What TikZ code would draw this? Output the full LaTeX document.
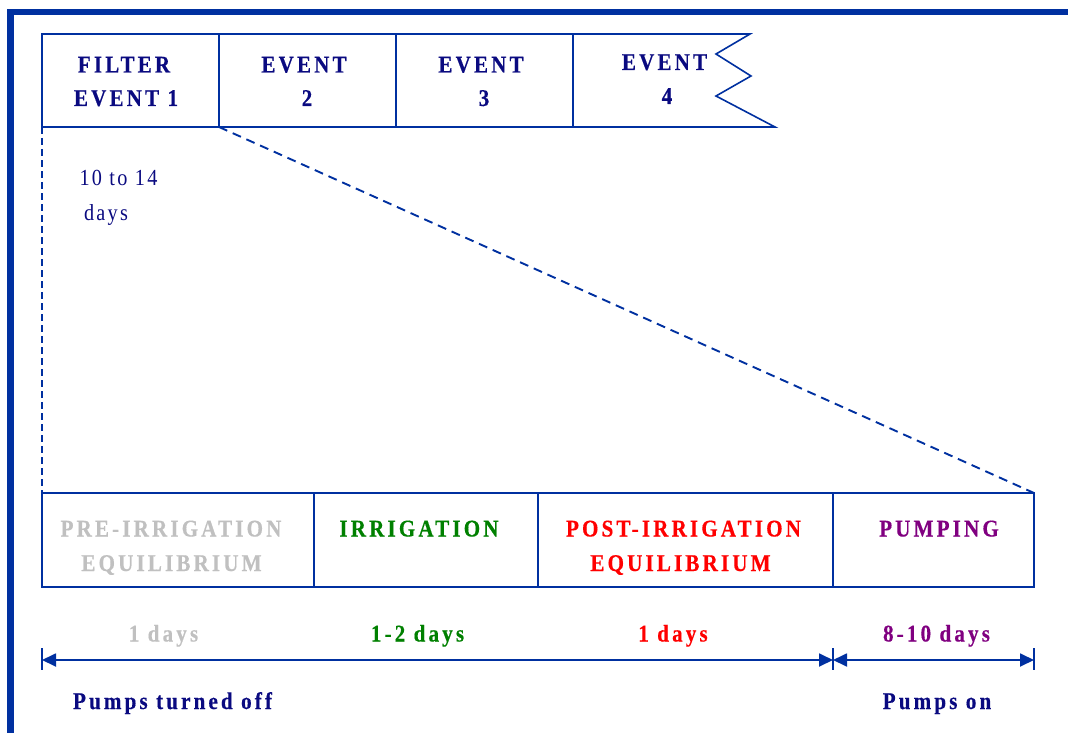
\documentclass[tikz,border=0pt]{standalone}
\usepackage{fontspec}
\setmainfont{Liberation Serif}
\newfontfamily\spaced[LetterSpace=13,FakeStretch=0.88,BoldFeatures={FakeBold=0.4}]{Liberation Serif}
\newfontfamily\spacedlight[LetterSpace=10,FakeStretch=0.88]{Liberation Serif}
\usetikzlibrary{arrows.meta}
\definecolor{lineblue}{RGB}{0,48,160}
\definecolor{navytext}{RGB}{10,10,128}
\definecolor{grayt}{RGB}{192,192,192}
\definecolor{greent}{RGB}{0,128,0}
\definecolor{redt}{RGB}{255,0,0}
\definecolor{purplet}{RGB}{128,0,128}
\tikzset{
  cell/.style={draw=lineblue, line width=1.6pt, inner sep=0pt, outer sep=0pt, anchor=north west},
  ttl/.style={anchor=base, inner sep=0pt, font=\fontsize{24}{28}\selectfont\spaced\bfseries},
  plain/.style={anchor=base, inner sep=0pt, text=navytext, font=\fontsize{23}{27}\selectfont\spacedlight},
  frameline/.style={draw=lineblue, line width=6.5pt},
  bline/.style={draw=lineblue, line width=1.6pt},
  dashv/.style={draw=lineblue, line width=2.3pt, dash pattern=on 7pt off 4pt},
  dashd/.style={draw=lineblue, line width=1.9pt, dash pattern=on 9pt off 6pt},
  span/.style={draw=lineblue, line width=1.8pt, {Triangle[length=14pt,width=13pt]}-{Triangle[length=14pt,width=13pt]}},
}
\begin{document}
\begin{tikzpicture}[x=1pt,y=-1pt]
\useasboundingbox (0,0) rectangle (1068,733);
% outer frame
\coordinate (fb) at (10.5,733);
\coordinate (fc) at (10.5,12);
\coordinate (fr) at (1068,12);
\draw[frameline] (fb) -- (fc) -- (fr);

% top event boxes
\node[cell, minimum width=177pt, minimum height=93pt] (b1) at (42,34) {};
\node[cell, minimum width=177pt, minimum height=93pt] (b2) at (219,34) {};
\node[cell, minimum width=177pt, minimum height=93pt] (b3) at (396,34) {};
\coordinate (e4a) at (750,34);
\coordinate (e4b) at (716,54);
\coordinate (e4c) at (751,76);
\coordinate (e4d) at (716,96);
\coordinate (e4e) at (775,127);
\draw[bline, line join=miter] (b3.north east) -- (e4a) -- (e4b) -- (e4c) -- (e4d) -- (e4e) -- (b3.south east);

\node[ttl, text=navytext] (t1a) at (124,72.5) {FILTER};
\node[ttl, text=navytext] (t1b) at (126,106) {EVENT 1};
\node[ttl, text=navytext] (t2a) at (304,72.5) {EVENT};
\node[ttl, text=navytext] (t2b) at (307,106) {2};
\node[ttl, text=navytext] (t3a) at (481,72.5) {EVENT};
\node[ttl, text=navytext] (t3b) at (484,106) {3};
\node[ttl, text=navytext] (t4a) at (664.5,70) {EVENT};
\node[ttl, text=navytext] (t4b) at (667,104) {4};

\node[plain] (d1) at (118.5,185) {10 to 14};
\node[plain] (d2) at (106,220) {days};

% bottom phase boxes
\node[cell, minimum width=272pt, minimum height=94pt] (p1) at (42,493) {};
\node[cell, minimum width=224pt, minimum height=94pt] (p2) at (314,493) {};
\node[cell, minimum width=295pt, minimum height=94pt] (p3) at (538,493) {};
\node[cell, minimum width=201pt, minimum height=94pt] (p4) at (833,493) {};

% zoom lines
\draw[dashv] (b1.south west) -- (p1.north west);
\draw[dashd] (b1.south east) -- (p4.north east);

\node[ttl, text=grayt] (q1a) at (171,536.5) {PRE-IRRIGATION};
\node[ttl, text=grayt] (q1b) at (171.5,571) {EQUILIBRIUM};
\node[ttl, text=greent] (q2a) at (419,536.5) {IRRIGATION};
\node[ttl, text=redt] (q3a) at (683.5,536.5) {POST-IRRIGATION};
\node[ttl, text=redt] (q3b) at (680.5,571) {EQUILIBRIUM};
\node[ttl, text=purplet] (q4a) at (939,536.5) {PUMPING};

% durations
\node[ttl, text=grayt] (u1) at (163.5,641.5) {1 days};
\node[ttl, text=greent] (u2) at (417.5,641.5) {1-2 days};
\node[ttl, text=redt] (u3) at (673,641.5) {1 days};
\node[ttl, text=purplet] (u4) at (936.5,641.5) {8-10 days};

% spans
\coordinate (s0) at (42,660);
\coordinate (s1) at (833,660);
\coordinate (s2) at (1034,660);
\coordinate (k0a) at (42,648);  \coordinate (k0b) at (42,670);
\coordinate (k1a) at (833,648); \coordinate (k1b) at (833,670);
\coordinate (k2a) at (1034,648); \coordinate (k2b) at (1034,670);
\draw[bline] (k0a) -- (k0b);
\draw[bline] (k1a) -- (k1b);
\draw[bline] (k2a) -- (k2b);
\draw[span] (s0) -- (s1);
\draw[span] (s1) -- (s2);

\node[ttl, text=navytext] (w1) at (172.5,709) {Pumps turned off};
\node[ttl, text=navytext] (w2) at (937,709) {Pumps on};
\end{tikzpicture}
\end{document}
